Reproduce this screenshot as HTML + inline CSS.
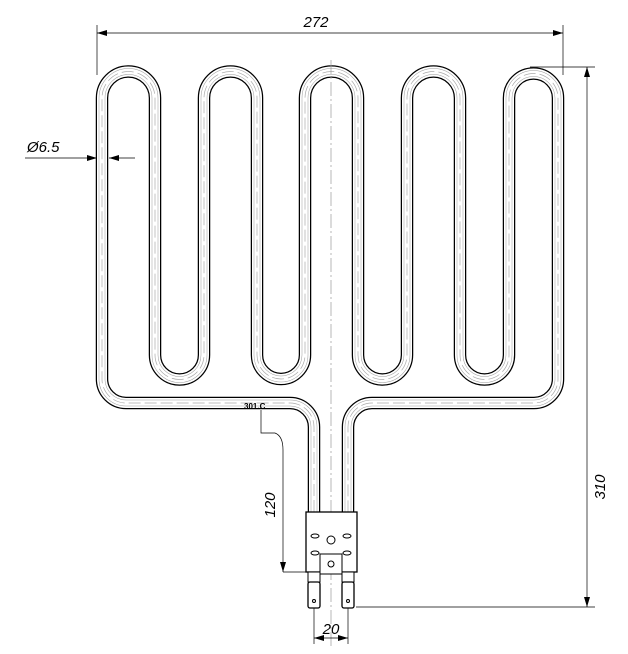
<!DOCTYPE html>
<html><head><style>body{margin:0;background:#fff}svg{display:block}</style></head><body>
<svg width="628" height="654" viewBox="0 0 628 654" xmlns="http://www.w3.org/2000/svg" xmlns:xlink="http://www.w3.org/1999/xlink">
<defs>
<marker id="a" markerWidth="10" markerHeight="6" refX="10" refY="3" orient="auto-start-reverse" markerUnits="userSpaceOnUse"><path d="M0,0L10,3L0,6z" fill="#000"/></marker>
<path id="p" d="M314,512 V427 A24,24 0 0 0 290,403 H126 A24,24 0 0 1 102,379 V98 A26.5,26.5 0 0 1 155,98 V355 A24.5,24.5 0 0 0 204,355 V98 A26.5,26.5 0 0 1 257,98 V355 A24,24 0 0 0 305,355 V98 A26.5,26.5 0 0 1 358,98 V355 A24.5,24.5 0 0 0 407,355 V98 A26.5,26.5 0 0 1 460,98 V355 A24.5,24.5 0 0 0 509,355 V98 A24.5,24.5 0 0 1 558,98 V379 A24,24 0 0 1 534,403 H372 A24,24 0 0 0 348,427 V512"/>
</defs>
<g fill="none">
<use href="#p" xlink:href="#p" stroke="#000" stroke-width="12.5"/>
<use href="#p" xlink:href="#p" stroke="#fff" stroke-width="10"/>
<use href="#p" xlink:href="#p" stroke="#999" stroke-width="6.5"/>
<use href="#p" xlink:href="#p" stroke="#fff" stroke-width="5.5"/>
<use href="#p" xlink:href="#p" stroke="#aaa" stroke-width="0.7" stroke-dasharray="12,4"/>
</g>
<line x1="331" y1="60" x2="331" y2="648" stroke="#999" stroke-width="0.7" stroke-dasharray="14,3,2,3"/>
<rect x="306" y="512" width="51" height="60" fill="#fff" stroke="#000" stroke-width="1.3"/>
<rect x="320" y="554" width="22" height="20" fill="#fff" stroke="#000" stroke-width="1"/>
<circle cx="331" cy="540" r="4" fill="none" stroke="#000"/>
<circle cx="331" cy="564" r="3" fill="none" stroke="#000"/>
<ellipse cx="315" cy="536" rx="4" ry="2" fill="none" stroke="#000"/>
<ellipse cx="315" cy="553" rx="4" ry="2" fill="none" stroke="#000"/>
<ellipse cx="347" cy="536" rx="4" ry="2" fill="none" stroke="#000"/>
<ellipse cx="347" cy="553" rx="4" ry="2" fill="none" stroke="#000"/>
<rect x="308" y="572" width="12" height="10" fill="#fff" stroke="#000"/>
<rect x="342" y="572" width="12" height="10" fill="#fff" stroke="#000"/>
<rect x="308" y="582" width="12" height="26" rx="2" fill="#fff" stroke="#000" stroke-width="1.3"/>
<rect x="342" y="582" width="12" height="26" rx="2" fill="#fff" stroke="#000" stroke-width="1.3"/>
<circle cx="314" cy="601" r="1.5" fill="none" stroke="#000"/>
<circle cx="348" cy="601" r="1.5" fill="none" stroke="#000"/>
<g stroke="#000" stroke-width="0.7" fill="none">
<line x1="97" y1="25" x2="97" y2="75"/><line x1="563" y1="25" x2="563" y2="75"/>
<line x1="97" y1="33" x2="563" y2="33" marker-start="url(#a)" marker-end="url(#a)"/>
<line x1="530" y1="67" x2="595" y2="67"/><line x1="356" y1="607" x2="595" y2="607"/>
<line x1="587" y1="67" x2="587" y2="607" marker-start="url(#a)" marker-end="url(#a)"/>
<line x1="25" y1="158" x2="97" y2="158" marker-end="url(#a)"/>
<line x1="135" y1="158" x2="109" y2="158" marker-end="url(#a)"/>
<path d="M261,410 V433 H275 Q283,436 283,450 V572" marker-end="url(#a)"/>
<line x1="283" y1="572" x2="308" y2="572"/>
<line x1="314" y1="608" x2="314" y2="644"/><line x1="348" y1="608" x2="348" y2="644"/>
<line x1="314" y1="638" x2="348" y2="638" marker-start="url(#a)" marker-end="url(#a)"/>
</g>
<g font-family="Liberation Sans, sans-serif" font-style="italic" font-size="15" fill="#000">
<text x="316" y="27" text-anchor="middle">272</text>
<text x="27" y="152">Ø6.5</text>
<text transform="translate(605,487) rotate(-90)" text-anchor="middle">310</text>
<text transform="translate(275,505) rotate(-90)" text-anchor="middle">120</text>
<text x="331" y="634" text-anchor="middle">20</text>
<text x="244" y="409" font-size="8" font-style="normal" font-weight="bold">301.C</text>
</g>
</svg>
</body></html>
